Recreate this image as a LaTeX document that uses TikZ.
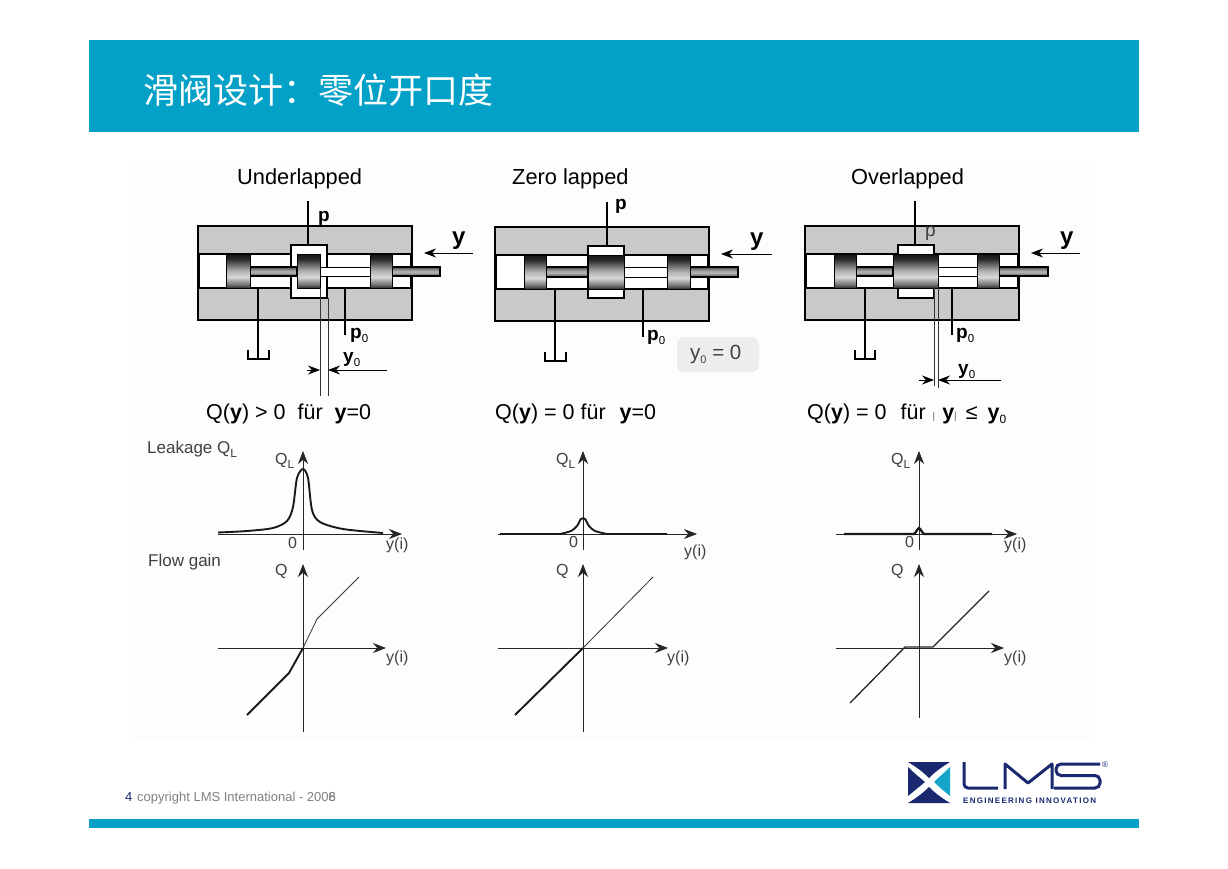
\documentclass[tikz,border=0pt]{standalone}
\usepackage{fontspec}
\setmainfont{Liberation Sans}
\newfontfamily\cjkfont{Noto Sans CJK SC}
\newfontfamily\logofont[LetterSpace=16]{Liberation Sans}
\usetikzlibrary{arrows.meta}
\definecolor{headblue}{RGB}{3,161,199}
\definecolor{lmsnavy}{RGB}{26,40,112}
\definecolor{lmsteal}{RGB}{20,165,200}
\newcommand{\fsz}[1]{\fontsize{#1}{#1}\selectfont}
\newcommand{\subz}[2][11.5]{\raisebox{-4.5pt}{\fontsize{#1}{#1}\selectfont\mdseries #2}}
\pgfdeclareverticalshading{spoolshade}{100bp}{
  color(0bp)=(black!85); color(25bp)=(black!85); color(29bp)=(black!60); color(41bp)=(black!15);
  color(50bp)=(black!30); color(68bp)=(black!85); color(75bp)=(black!92); color(100bp)=(black!92)}
\pgfdeclareverticalshading{rodshade}{100bp}{
  color(0bp)=(black!70); color(25bp)=(black!70); color(45bp)=(black!30);
  color(55bp)=(black!35); color(75bp)=(black!70); color(100bp)=(black!70)}
\tikzset{
  body/.style={fill=black!21, draw=black, line width=1.4pt},
  bore/.style={fill=white, draw=black, line width=1.2pt},
  spool/.style={shading=spoolshade, draw=black, line width=0.8pt},
  rod/.style={shading=rodshade, draw=black, line width=1.2pt},
  pipe/.style={line width=2.5pt, black},
  tank/.style={line width=2pt, black},
  dimline/.style={line width=0.8pt, black!80},
  thinarrow/.style={line width=0.8pt, -{Stealth[length=12pt,width=9pt]}},
  axis/.style={line width=0.8pt, black!85, -{Stealth[length=13pt,width=10pt]}},
  thickcurve/.style={line width=1.9pt, black!90},
  thincurve/.style={line width=0.8pt, black!80},
  headline/.style={anchor=base west, font=\fsz{21.8}, black},
  eqline/.style={anchor=base west, font=\fsz{21.5}, black},
  portlabel/.style={anchor=base west, font=\fsz{19}\bfseries, black},
  ylabel/.style={anchor=base west, font=\fsz{24}\bfseries, black},
  plotlabel/.style={anchor=base west, font=\fsz{16}, black!75},
}
\begin{document}
\begin{tikzpicture}[x=1pt, y=-1pt]
\path[use as bounding box, fill=white] (0,0) rectangle (1228,869);

% slide frame
\fill[headblue] (89,40) rectangle (1139,132);
\fill[headblue] (89,819) rectangle (1139,828);
\node[anchor=base west, white, inner sep=0pt, font=\cjkfont\fsz{35}] (title) at (143,103.5) {滑阀设计：零位开口度};
\fill[black!0.6] (130,160) rectangle (1090,740);

% underlapped valve
\node[headline, inner sep=0pt] (headunder) at (237,185) {Underlapped};
\draw[body] (198,226) rectangle (412,320);
\draw[bore] (199,254) rectangle (411,288);
\draw[bore] (291,245) rectangle (327,298);
\draw[rod] (250,267) rectangle (297,276);
\draw[line width=1pt, fill=white] (320,267) rectangle (370,276);
\draw[rod] (392,267) rectangle (440,276);
\draw[spool] (226,254) rectangle (250,288);
\draw[spool] (297,254) rectangle (320,288);
\draw[spool] (370,254) rectangle (392,288);
\draw[pipe] (308,201) -- (308,245);
\draw[pipe] (345,288) -- (345,335);
\draw[tank] (258,288) -- (258,359);
\draw[tank] (248,350) -- (248,359) -- (269,359) -- (269,350);
\node[portlabel, inner sep=0pt] (pund) at (318,222) {p};
\node[portlabel, inner sep=0pt] (pzund) at (350,338) {p\subz{0}};
\draw[dimline] (320,288) -- (320,396);
\draw[dimline] (328,298) -- (328,396);
\draw[thinarrow] (307,370) -- (320,370);
\draw[thinarrow] (387,370) -- (328,370);
\node[portlabel, inner sep=0pt] (yzund) at (343,362) {y\subz{0}};
\draw[thinarrow] (473,253) -- (424,253);
\node[ylabel, inner sep=0pt] (yund) at (452,244) {y};
\node[eqline, inner sep=0pt] (equnder) at (206,419) {Q({\bfseries y}) > 0\hspace{6pt} für\hspace{6pt} {\bfseries y}=0};

% zero lapped valve
\node[headline, inner sep=0pt] (headzero) at (512,185) {Zero lapped};
\draw[body] (495,227) rectangle (709,321);
\draw[bore] (496,255) rectangle (708,289);
\draw[bore] (588,246) rectangle (624,298);
\draw[rod] (546,267) rectangle (588,277);
\draw[line width=1pt, fill=white] (624,267) rectangle (667,277);
\draw[rod] (690,267) rectangle (738,277);
\draw[spool] (524,255) rectangle (546,289);
\draw[spool] (588,255) rectangle (624,289);
\draw[spool] (667,255) rectangle (690,289);
\draw[pipe] (607,202) -- (607,246);
\draw[pipe] (643,289) -- (643,337);
\draw[tank] (555,289) -- (555,361);
\draw[tank] (545,352) -- (545,361) -- (566,361) -- (566,352);
\node[portlabel, inner sep=0pt] (pzer) at (615,210) {p};
\node[portlabel, inner sep=0pt] (pzzer) at (647,340) {p\subz{0}};
\draw[thinarrow] (772,254) -- (721,254);
\node[ylabel, inner sep=0pt] (yzer) at (750,245) {y};
\fill[black!7, rounded corners=7pt] (677,337) rectangle (759,372);
\node[anchor=base west, inner sep=0pt, font=\fsz{20.5}, black!75] (yzero) at (690,359) {y\subz[11]{0} = 0};
\node[eqline, inner sep=0pt] (eqzero) at (495,419) {Q({\bfseries y}) = 0 für\hspace{8pt} {\bfseries y}=0};

% overlapped valve
\node[headline, inner sep=0pt] (headover) at (851,185) {Overlapped};
\draw[body] (805,226) rectangle (1019,320);
\draw[bore] (806,254) rectangle (1018,288);
\draw[bore] (898,245) rectangle (934,298);
\draw[rod] (856,267) rectangle (893,276);
\draw[line width=1pt, fill=white] (938,267) rectangle (977,276);
\draw[rod] (999,267) rectangle (1048,276);
\draw[spool] (834,254) rectangle (856,288);
\draw[spool] (893,254) rectangle (938,288);
\draw[spool] (977,254) rectangle (999,288);
\draw[pipe] (915,201) -- (915,245);
\draw[pipe] (952,288) -- (952,335);
\draw[tank] (865,288) -- (865,359);
\draw[tank] (855,350) -- (855,359) -- (875,359) -- (875,350);
\node[anchor=base west, inner sep=0pt, font=\fsz{19}, black!75] (pove) at (925,236) {p};
\node[portlabel, inner sep=0pt] (pzove) at (956,338) {p\subz{0}};
\draw[dimline] (934,288) -- (934,386);
\draw[dimline] (938,288) -- (938,388);
\draw[thinarrow] (919,380) -- (934,380);
\draw[thinarrow] (1001,380) -- (938,380);
\node[portlabel, inner sep=0pt] (yzove) at (958,374) {y\subz{0}};
\draw[thinarrow] (1080,253) -- (1031,253);
\node[ylabel, inner sep=0pt] (yove) at (1060,244) {y};
\node[eqline, inner sep=0pt] (eqover) at (807,419) {Q({\bfseries y}) = 0\hspace{8pt} für\hspace{1pt} \textcolor{black!60}{\fsz{10}|}\hspace{1pt} {\bfseries y}\textcolor{black!60}{\fsz{10}|}\hspace{3pt} ≤\hspace{4pt} {\bfseries y}\subz[12]{0}};

% left plots
\node[plotlabel, font=\fsz{17}, inner sep=0pt] (leak) at (147,453) {Leakage Q\subz[12]{L}};
\node[plotlabel, font=\fsz{17}, inner sep=0pt] (gain) at (148,566) {Flow gain};
\draw[axis] (218,534) -- (402,534);
\draw[axis] (303,550) -- (303,451);
\draw[thickcurve] plot[smooth, tension=0.5] coordinates {(218,532.5) (247,531) (273,528) (287,521) (293,507) (297,478) (303,469) (308,478) (312,510) (320,522) (343,529) (383,533)};
\node[plotlabel, inner sep=0pt] (qla) at (275,464) {Q\subz[12]{L}};
\node[plotlabel, inner sep=0pt] (zeroa) at (288,548) {0};
\node[plotlabel, inner sep=0pt] (yia) at (386,549) {y(i)};
\draw[axis] (218,648) -- (386,648);
\draw[axis] (303,732) -- (303,564);
\draw[thickcurve] (247,715) -- (289,673) -- (303,648);
\draw[thincurve] (303,648) -- (317,619) -- (359,577);
\node[plotlabel, inner sep=0pt] (qa) at (275,575) {Q};
\node[plotlabel, inner sep=0pt] (yib) at (386,662) {y(i)};

% middle plots
\draw[axis] (498,534) -- (697,534);
\draw[axis] (583,550) -- (583,451);
\draw[line width=2.3pt, black!90] (500,534) -- (560,534);
\draw[line width=2.3pt, black!90] (607,534) -- (667,534);
\draw[thickcurve] plot[smooth, tension=0.5] coordinates {(560,534) (571,531) (577,526) (581,519) (585,519) (589,526) (595,531) (607,534)};
\node[plotlabel, inner sep=0pt] (qlb) at (556,464) {Q\subz[12]{L}};
\node[plotlabel, inner sep=0pt] (zerob) at (569,547) {0};
\node[plotlabel, inner sep=0pt] (yic) at (684,556) {y(i)};
\draw[axis] (498,648) -- (668,648);
\draw[axis] (583,732) -- (583,564);
\draw[thickcurve] (515,715) -- (583,648);
\draw[thincurve] (583,648) -- (653,577);
\node[plotlabel, inner sep=0pt] (qb) at (556,575) {Q};
\node[plotlabel, inner sep=0pt] (yid) at (667,662) {y(i)};

% right plots
\draw[axis] (836,534) -- (1017,534);
\draw[axis] (919,550) -- (919,451);
\draw[line width=2.3pt, black!90] (844,534) -- (914,534) .. controls (916,533) and (917,529) .. (919,528) .. controls (921,529) and (922,533) .. (924,534) -- (992,534);
\node[plotlabel, inner sep=0pt] (qlc) at (891,464) {Q\subz[12]{L}};
\node[plotlabel, inner sep=0pt] (zeroc) at (905,547) {0};
\node[plotlabel, inner sep=0pt] (yie) at (1004,549) {y(i)};
\draw[axis] (836,648) -- (1004,648);
\draw[axis] (919,718) -- (919,564);
\draw[line width=1.3pt, black!85] (850,703) -- (905,647) -- (933,647) -- (989,591);
\node[plotlabel, inner sep=0pt] (qc) at (891,575) {Q};
\node[plotlabel, inner sep=0pt] (yif) at (1004,662) {y(i)};

% footer
\node[anchor=base west, inner sep=0pt, font=\fsz{13}, lmsnavy] (pagenum) at (125,801) {4};
\node[anchor=base west, inner sep=0pt, font=\fsz{13}, black!50] (copyr) at (137,801) {copyright LMS International - 200\rlap{6}8};

% logo
\fill[lmsnavy] (908,762) -- (950,762) .. controls (940,768) and (934,773) .. (929,778) .. controls (924,773) and (918,768) .. (908,762) -- cycle;
\fill[lmsnavy] (908,767) .. controls (914,773) and (919,777) .. (925,782) .. controls (919,787) and (914,791) .. (908,796) -- cycle;
\fill[lmsnavy] (908,803) .. controls (918,797) and (924,792) .. (929,787) .. controls (934,792) and (940,797) .. (950,803) -- cycle;
\fill[lmsteal] (950,767) .. controls (944,773) and (939,777) .. (934,782) .. controls (939,787) and (944,791) .. (950,796) -- cycle;
\draw[lmsnavy, line width=3pt, rounded corners=4pt] (964,762) -- (964,788) -- (998,788);
\draw[lmsnavy, line width=3pt, line join=round] (1005,789) -- (1005,764) -- (1028,783) -- (1052,764) -- (1052,789);
\draw[lmsnavy, line width=3pt, rounded corners=5pt] (1100,764) -- (1056,764) -- (1056,775.5) -- (1100,775.5) -- (1100,788) -- (1054,788);
\node[anchor=center, inner sep=0pt, font=\fsz{8}, lmsnavy] (regmark) at (1105,765) {®};
\node[anchor=base west, inner sep=0pt, font=\logofont\bfseries\fsz{8}, lmsnavy] (logotext) at (963,803) {ENGINEERING INNOVATION};
\end{tikzpicture}
\end{document}
